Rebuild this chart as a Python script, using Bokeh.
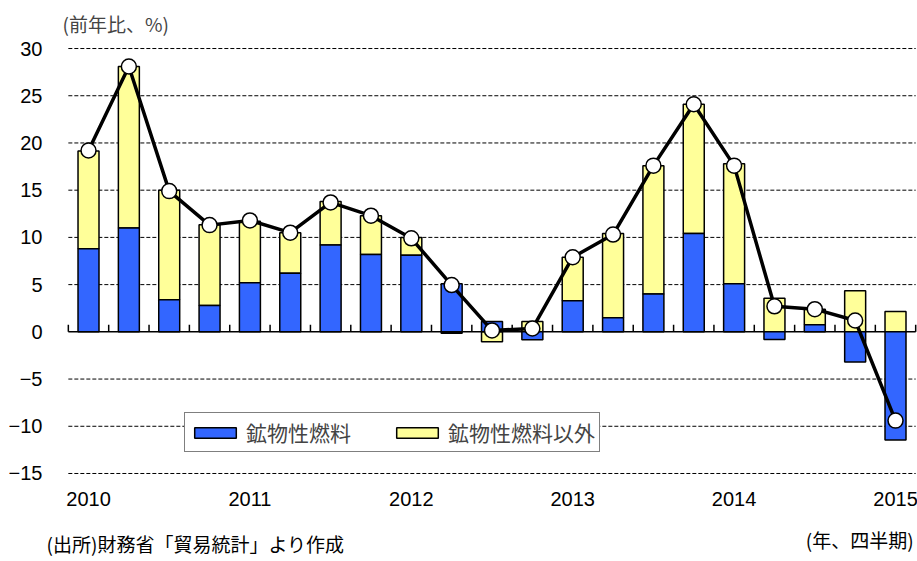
import numpy as np
from bokeh.plotting import figure
from bokeh.models import (Range1d, FixedTicker, Legend, LegendItem, Title,
                          ColumnDataSource)
from bokeh.core.properties import value
from bokeh.embed import file_html
from bokeh.resources import INLINE

# ---------------- data ----------------
quarters = ["2010Q1", "2010Q2", "2010Q3", "2010Q4",
            "2011Q1", "2011Q2", "2011Q3", "2011Q4",
            "2012Q1", "2012Q2", "2012Q3", "2012Q4",
            "2013Q1", "2013Q2", "2013Q3", "2013Q4",
            "2014Q1", "2014Q2", "2014Q3", "2014Q4",
            "2015Q1"]
mineral_fuel = [8.8, 11.0, 3.4, 2.8, 5.2, 6.2, 9.2, 8.2, 8.1, 5.1, 1.1, -0.85,
                3.3, 1.5, 4.0, 10.4, 5.1, -0.8, 0.75, -3.2, -11.45]
non_fuel = [10.35, 17.1, 11.6, 8.55, 6.5, 4.3, 4.6, 4.1, 1.9, -0.15, -1.05, 1.1,
            4.6, 8.9, 13.6, 13.7, 12.7, 3.55, 1.65, 4.35, 2.15]
total = [19.2, 28.1, 14.9, 11.3, 11.8, 10.5, 13.7, 12.3, 9.9, 4.95, 0.15, 0.35,
         7.9, 10.3, 17.6, 24.1, 17.6, 2.7, 2.4, 1.2, -9.4]
year_labels = ["2010", "2011", "2012", "2013", "2014", "2015"]
year_index = [0, 4, 8, 12, 16, 20]
y_ticks = [-15, -10, -5, 0, 5, 10, 15, 20, 25, 30]
series_names = ["鉱物性燃料", "鉱物性燃料以外"]
title_text = "(前年比、%)"
xunit_text = "(年、四半期)"
source_text = "(出所)財務省「貿易統計」より作成"

# -------------- derived geometry --------------
x = np.arange(len(quarters))
blue = np.array(mineral_fuel)
yel = np.array(non_fuel)
# Excel-like stacking: positive and negative parts stacked separately
yel_base = np.where(yel >= 0, np.maximum(blue, 0), np.minimum(blue, 0))
src = ColumnDataSource(dict(
    x=x, blue_bottom=np.zeros_like(blue), blue_top=blue,
    yel_bottom=yel_base, yel_top=yel_base + yel, total=np.array(total)))

bounds = np.arange(len(quarters) + 1) - 0.5          # category boundaries
x_start, x_end = bounds[0], bounds[-1]
tick_src = ColumnDataSource(dict(x=bounds, y0=np.zeros_like(bounds),
                                 y1=np.full_like(bounds, 0.75)))
grid_vals = [t for t in y_ticks if t != 0]
grid_src = ColumnDataSource(dict(y=grid_vals, x0=[x_start] * len(grid_vals),
                                 x1=[x_end] * len(grid_vals)))
zero_src = ColumnDataSource(dict(y=[0], x0=[x_start], x1=[x_end]))
year_src = ColumnDataSource(dict(x=year_index, text=year_labels))

CJK = "Noto Sans CJK JP"
LAT = "Liberation Sans"
BLUE = "#3366FF"
YELLOW = "#FFFF99"

p = figure(width=917, height=561, output_backend="svg", toolbar_location=None,
           x_range=Range1d(-1.066, 20.545), y_range=Range1d(-24.32, 30.85),
           min_border_left=45, min_border_right=0, min_border_top=40,
           min_border_bottom=0)
p.outline_line_color = None
p.background_fill_color = "white"
p.xgrid.visible = False
p.ygrid.visible = False
p.xaxis.visible = False

# y axis labels
p.yaxis.ticker = FixedTicker(ticks=y_ticks)
p.yaxis.axis_line_color = None
p.yaxis.major_tick_line_color = None
p.yaxis.minor_tick_line_color = None
p.yaxis.major_tick_in = 0
p.yaxis.major_tick_out = 0
p.yaxis.major_label_standoff = 3
p.yaxis.major_label_text_font = LAT
p.yaxis.major_label_text_font_size = "20px"
p.yaxis.major_label_text_color = "black"

# dashed horizontal gridlines over the category span
p.segment(x0="x0", x1="x1", y0="y", y1="y", source=grid_src,
          line_color="black", line_dash="4 2", line_width=1)

# zero line + boundary ticks
p.segment(x0="x0", x1="x1", y0="y", y1="y", source=zero_src,
          line_color="black", line_width=1.5)
p.segment(x0="x", y0="y0", x1="x", y1="y1", source=tick_src,
          line_color="black", line_width=1.5)

# bars
r_yel = p.vbar(x="x", bottom="yel_bottom", top="yel_top", width=0.52, source=src,
               fill_color=YELLOW, line_color="black", line_width=1.5)
r_blue = p.vbar(x="x", bottom="blue_bottom", top="blue_top", width=0.52, source=src,
                fill_color=BLUE, line_color="black", line_width=1.5)

# total line
p.line(x="x", y="total", source=src, line_color="black", line_width=3.5)
p.scatter(x="x", y="total", source=src, size=15, fill_color="white",
          line_color="black", line_width=1.5)

# year labels under the chart
p.text(x="x", y=-17.0, text="text", source=year_src, text_font=value(LAT),
       text_font_size="20px", text_align="center", text_baseline="top",
       text_color="black")

# legend
legend = Legend(items=[LegendItem(label=series_names[0], renderers=[r_blue]),
                       LegendItem(label=series_names[1], renderers=[r_yel])],
                orientation="horizontal", location=(139, 109),
                glyph_width=52, glyph_height=13, label_standoff=5, spacing=40,
                padding=4, margin=0, label_height=20,
                label_text_font=CJK, label_text_font_size="21px",
                border_line_color="black", border_line_width=1.5,
                background_fill_alpha=1)
p.add_layout(legend, "center")

# other texts
p.add_layout(Title(text=title_text, align="left", offset=17, standoff=8,
                   text_font=CJK, text_font_size="19px", text_font_style="normal"),
             "above")
p.text(x=[20.45], y=[-22.0], text=[xunit_text], text_font=value(CJK),
       text_font_size="19px", text_align="right", text_baseline="middle",
       text_color="black")
p.text(x=[-1.04], y=[-22.4], text=[source_text], text_font=value(CJK),
       text_font_size="19px", text_align="left", text_baseline="middle",
       text_color="black")

open("out.html", "w").write(file_html(p, INLINE))
